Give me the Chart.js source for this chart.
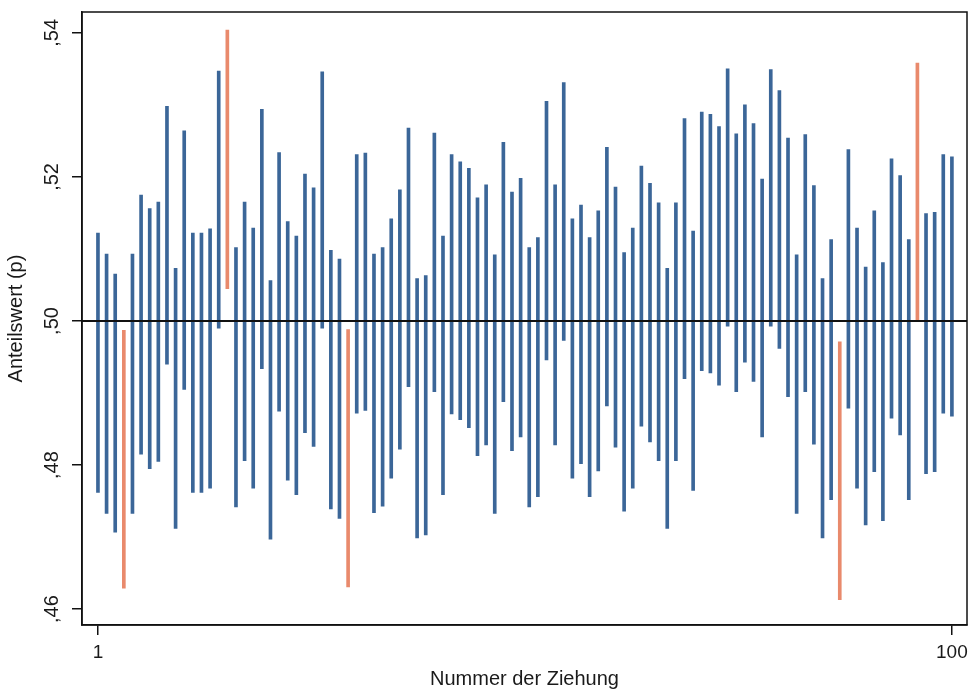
<!DOCTYPE html>
<html>
<head>
<meta charset="utf-8">
<script src="https://cdn.jsdelivr.net/npm/chart.js@4.4.1/dist/chart.umd.min.js"></script>
<style>
  html, body { margin: 0; padding: 0; background: #fff; }
  #wrap { width: 968px; height: 693px; }
</style>
</head>
<body>
<div id="wrap"><canvas id="ciChart"></canvas></div>
<script>
// Nummer der Ziehung
const draws = [1,2,3,4,5,6,7,8,9,10,11,12,13,14,15,16,17,18,19,20,
  21,22,23,24,25,26,27,28,29,30,31,32,33,34,35,36,37,38,39,40,
  41,42,43,44,45,46,47,48,49,50,51,52,53,54,55,56,57,58,59,60,
  61,62,63,64,65,66,67,68,69,70,71,72,73,74,75,76,77,78,79,80,
  81,82,83,84,85,86,87,88,89,90,91,92,93,94,95,96,97,98,99,100];

// Konfidenzintervalle: untere / obere Grenze
const lower = [.4762,.4733,.4707,.4629,.4733,.4815,.4795,.4805,.4940,.4712,
  .4905,.4762,.4762,.4768,.4990,.5045,.4742,.4806,.4768,.4934,
  .4697,.4875,.4779,.4759,.4845,.4826,.4990,.4739,.4726,.4631,
  .4872,.4876,.4734,.4743,.4782,.4822,.4909,.4699,.4703,.4902,
  .4759,.4871,.4863,.4852,.4813,.4828,.4733,.4888,.4820,.4839,
  .4742,.4756,.4946,.4828,.4973,.4782,.4802,.4756,.4792,.4882,
  .4825,.4736,.4768,.4854,.4832,.4806,.4712,.4806,.4920,.4765,
  .4931,.4928,.4911,.4993,.4902,.4943,.4916,.4839,.4993,.4962,
  .4895,.4733,.4902,.4829,.4699,.4752,.4613,.4879,.4768,.4717,
  .4791,.4723,.4865,.4842,.4752,.5002,.4788,.4791,.4872,.4868];
const upper = [.5122,.5093,.5065,.4987,.5093,.5175,.5156,.5165,.5298,.5073,
  .5264,.5122,.5122,.5128,.5347,.5404,.5102,.5165,.5129,.5294,
  .5056,.5234,.5138,.5118,.5204,.5185,.5346,.5098,.5086,.4988,
  .5231,.5233,.5093,.5102,.5142,.5182,.5268,.5059,.5063,.5261,
  .5118,.5231,.5221,.5212,.5171,.5189,.5092,.5248,.5179,.5198,
  .5102,.5116,.5305,.5189,.5331,.5142,.5161,.5116,.5153,.5241,
  .5186,.5095,.5129,.5215,.5191,.5164,.5073,.5164,.5281,.5125,
  .5290,.5287,.5270,.5350,.5260,.5300,.5274,.5197,.5349,.5320,
  .5254,.5092,.5259,.5188,.5059,.5113,.4971,.5238,.5129,.5075,
  .5153,.5081,.5225,.5202,.5113,.5358,.5149,.5151,.5231,.5228];

const trueP = 0.5;
const yTicks = [0.46, 0.48, 0.50, 0.52, 0.54];
const xTicks = [1, 100];

const blue = '#3b6698';
const red = '#e98a6c';

const barColors = draws.map((d, i) =>
  (lower[i] > trueP || upper[i] < trueP) ? red : blue);

// Rahmen + Linie bei p = .5
const framePlugin = {
  id: 'frame',
  afterDatasetsDraw(chart) {
    const { ctx, chartArea: a, scales: { y } } = chart;
    const yp = y.getPixelForValue(trueP);
    ctx.save();
    ctx.strokeStyle = '#111';
    ctx.lineWidth = 2;
    ctx.beginPath();
    ctx.moveTo(a.left, yp);
    ctx.lineTo(a.right, yp);
    ctx.stroke();
    ctx.lineWidth = 1.5;
    ctx.strokeRect(a.left, a.top, a.right - a.left, a.bottom - a.top);
    ctx.restore();
  }
};

const txt = '#1a1a1a';
const font = 'Liberation Sans, Arial, sans-serif';

new Chart(document.getElementById('ciChart'), {
  type: 'bar',
  data: {
    datasets: [{
      data: draws.map((d, i) => ({ x: d, y: [lower[i], upper[i]] })),
      backgroundColor: barColors,
      borderWidth: 0,
      barThickness: 3,
      grouped: false
    }]
  },
  options: {
    responsive: true,
    maintainAspectRatio: false,
    animation: false,
    layout: { padding: { top: 12, right: 1, left: 0, bottom: 0 } },
    plugins: {
      legend: { display: false },
      tooltip: { enabled: false }
    },
    scales: {
      x: {
        type: 'linear',
        min: -0.85,
        max: 101.75,
        offset: false,
        afterBuildTicks: s => { s.ticks = xTicks.map(v => ({ value: v })); },
        afterFit: s => { s.height = 68; s.paddingLeft = 0; s.paddingRight = 0; },
        grid: { offset: false, drawOnChartArea: false, drawTicks: true, tickLength: 10, color: '#111', lineWidth: 1.5 },
        border: { display: true, color: '#111', width: 1.5 },
        ticks: { color: txt, font: { family: font, size: 19 }, padding: 6, maxRotation: 0 },
        title: { display: true, text: 'Nummer der Ziehung', color: txt,
                 font: { family: font, size: 20 }, padding: { top: 0, bottom: 2 } }
      },
      y: {
        min: 0.4578,
        max: 0.5429,
        afterBuildTicks: s => { s.ticks = yTicks.map(v => ({ value: v })); },
        afterFit: s => { s.width = 82; s.paddingTop = 0; s.paddingBottom = 0; },
        grid: { offset: false, drawOnChartArea: false, drawTicks: true, tickLength: 10, color: '#111', lineWidth: 1.5 },
        border: { display: true, color: '#111', width: 1.5 },
        ticks: {
          color: txt,
          font: { family: font, size: 20 },
          minRotation: 90,
          maxRotation: 90,
          crossAlign: 'center',
          padding: 6,
          callback: v => ',' + Math.round(v * 100)
        },
        title: { display: true, text: 'Anteilswert (p)', color: txt,
                 font: { family: font, size: 20 }, padding: { top: 4, bottom: 0 } }
      }
    }
  },
  plugins: [framePlugin]
});
</script>
</body>
</html>
